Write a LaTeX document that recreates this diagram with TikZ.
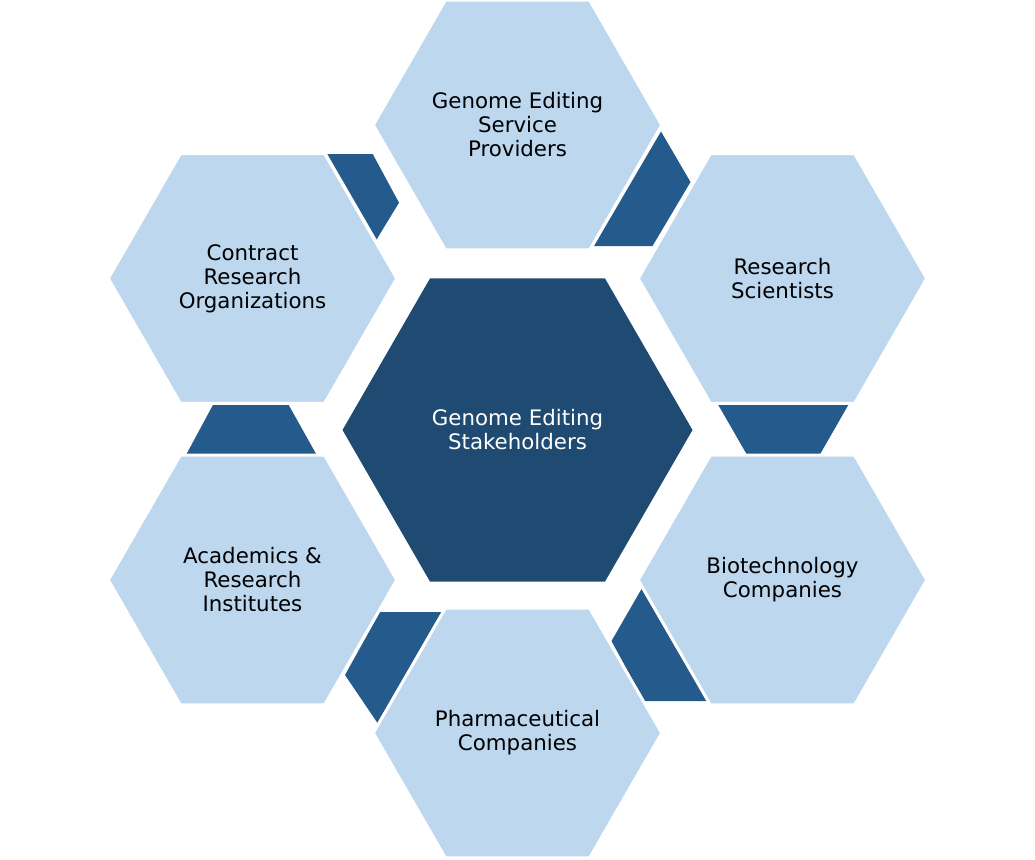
\documentclass[tikz,border=0pt]{standalone}
\usepackage{fontspec}
\setmainfont{DejaVu Sans}
\usetikzlibrary{shapes.geometric}
\definecolor{lightblue}{HTML}{BDD7EE}
\definecolor{centerblue}{HTML}{1F4A72}
\definecolor{linkblue}{HTML}{255A8C}
\tikzset{
  hexbase/.style={regular polygon, regular polygon sides=6,
    inner sep=0pt, outer sep=0pt, align=center, font=\fontsize{16}{18}\selectfont},
  hexouter/.style={hexbase, fill=lightblue, draw=white, line width=2.25pt,
    text=black, minimum size=216.4pt},
  hexcenter/.style={hexbase, fill=centerblue, text=white, minimum size=262.5pt},
  linkshape/.style={fill=linkblue, draw=none}
}
\begin{document}
\begin{tikzpicture}[x=0.75pt, y=-0.75pt]
\useasboundingbox (0,0) rectangle (1035,860);
\fill[white] (0,0) rectangle (1035,860);
% connector shapes
\fill[linkshape] (327.3,154) -- (372.7,154) -- (399,202.7) -- (376.7,239.3) -- cycle;
\fill[linkshape] (661,131.5) -- (690.5,182) -- (652.5,246) -- (594,246) -- cycle;
\fill[linkshape] (718.3,405) -- (848.3,405) -- (820,454.3) -- (746.7,454.3) -- cycle;
\fill[linkshape] (213.3,404.3) -- (288.3,404.3) -- (316.7,455) -- (186,455) -- cycle;
\fill[linkshape] (380,612) -- (441.7,612) -- (377.5,723) -- (345,675) -- cycle;
\fill[linkshape] (641.5,589) -- (707,701) -- (644,701) -- (611.5,641) -- cycle;
% hexagons
\node[hexcenter] (center) at (517.5,430) {Genome Editing\\Stakeholders};
\node[hexouter] (top) at (517.5,125) {Genome Editing\\Service\\Providers};
\node[hexouter] (ur) at (782.5,278.5) {Research\\Scientists};
\node[hexouter] (lr) at (782.5,580) {Biotechnology\\Companies};
\node[hexouter] (bottom) at (517.5,733) {Pharmaceutical\\Companies};
\node[hexouter] (ll) at (252.5,580) {Academics \&\\Research\\Institutes};
\node[hexouter] (ul) at (252.5,278.5) {Contract\\Research\\Organizations};
\end{tikzpicture}
\end{document}
